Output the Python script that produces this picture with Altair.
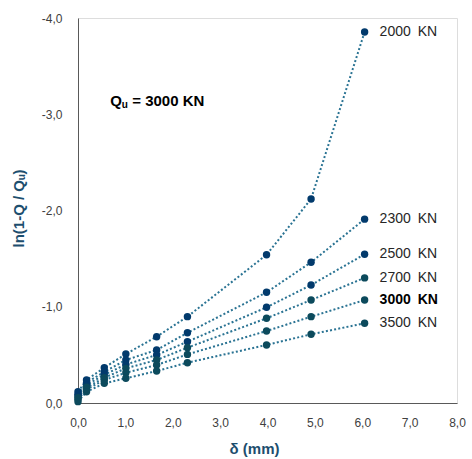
import altair as alt
import pandas as pd

# ---- data ----
deflection = [0.0, 0.18, 0.555, 1.01, 1.66, 2.31, 3.98, 4.92, 6.05]
series = ["2000", "2300", "2500", "2700", "3000", "3500"]
ln_2000 = [0.117, 0.239, 0.367, 0.509, 0.689, 0.897, 1.54, 2.12, 3.855]
ln_2300 = [0.090, 0.211, 0.325, 0.447, 0.551, 0.730, 1.15, 1.462, 1.91]
ln_2500 = [0.073, 0.187, 0.294, 0.400, 0.499, 0.637, 0.994, 1.226, 1.545]
ln_2700 = [0.055, 0.163, 0.263, 0.360, 0.447, 0.575, 0.880, 1.070, 1.300]
ln_3000 = [0.038, 0.142, 0.239, 0.315, 0.395, 0.505, 0.748, 0.897, 1.070]
ln_3500 = [0.014, 0.117, 0.204, 0.257, 0.332, 0.419, 0.603, 0.714, 0.828]
labels = ["2000\u2002KN", "2300\u2002KN", "2500\u2002KN", "2700\u2002KN", "3000\u2002KN", "3500\u2002KN"]
point_colors = ["#023a6c", "#023a6c", "#023a6c", "#0c4a5c", "#0c4a5c", "#0c4a5c"]
x_ticks = [0, 1, 2, 3, 4, 5, 6, 7, 8]
y_ticks = [0, -1, -2, -3, -4]
note_parts = ["Q", "u", "= 3000 KN"]

all_vals = [ln_2000, ln_2300, ln_2500, ln_2700, ln_3000, ln_3500]
rows = []
for s, lab, vals in zip(series, labels, all_vals):
    for i, (x, v) in enumerate(zip(deflection, vals)):
        rows.append({"series": s, "label": lab, "x": x, "y": -v,
                     "last": i == len(deflection) - 1})
df = pd.DataFrame(rows)

xs = alt.Scale(domain=[0, 8], nice=False, zero=False)
ys = alt.Scale(domain=[0, -4], nice=False, zero=False)
color = alt.Color("series:N", scale=alt.Scale(domain=series, range=point_colors), legend=None)

lab_font = "Liberation Sans"
axis_col = "#595959"

x_axis = alt.Axis(
    values=x_ticks, labelExpr="replace(format(datum.value, '.1f'), '.', ',')",
    grid=False, ticks=False, domainColor=axis_col, labelColor="#404040",
    labelFontSize=12, labelFont=lab_font, labelPadding=14, labelFlush=False,
    title="δ (mm)", titleFont=lab_font, titleFontSize=15, titleFontWeight="bold",
    titleColor="#1d4e6e", titleX=176, titleY=45, titleBaseline="middle",
)
y_axis = alt.Axis(
    values=y_ticks,
    labelExpr="(datum.value < 0 ? '-' : '') + replace(format(abs(datum.value), '.1f'), '.', ',')",
    grid=False, ticks=False, domainColor=axis_col, labelColor="#404040",
    labelFontSize=12, labelFont=lab_font, labelPadding=16, labelFlush=False,
    title="ln(1-Q / Qᵤ)", titleFont=lab_font, titleFontSize=15, titleFontWeight="bold",
    titleColor="#1d4e6e", titleAngle=270, titleX=-60, titleY=190, titleBaseline="middle",
    titleAlign="center",
)

base = alt.Chart(df)

lines = base.mark_line(
    strokeDash=[2, 2.2], strokeWidth=2, strokeCap="butt", color="#2a7393"
).encode(
    x=alt.X("x:Q", scale=xs, axis=x_axis),
    y=alt.Y("y:Q", scale=ys, axis=y_axis),
    detail="series:N",
)

points = base.mark_circle(size=55, opacity=1).encode(
    x=alt.X("x:Q", scale=xs),
    y=alt.Y("y:Q", scale=ys),
    color=color,
)

end_normal = base.transform_filter("datum.last && datum.series != '3000'").mark_text(
    align="left", baseline="middle", dx=15, fontSize=14, font=lab_font, color="#262626"
).encode(x=alt.X("x:Q", scale=xs), y=alt.Y("y:Q", scale=ys), text="label:N")

end_bold = base.transform_filter("datum.last && datum.series == '3000'").mark_text(
    align="left", baseline="middle", dx=15, fontSize=14, font=lab_font, color="#000000",
    fontWeight="bold"
).encode(x=alt.X("x:Q", scale=xs), y=alt.Y("y:Q", scale=ys), text="label:N")

note_df = pd.DataFrame({"x": [0.68], "y": [-3.14]})
note_q = alt.Chart(note_df).mark_text(
    align="left", baseline="middle", fontSize=15, fontWeight="bold", font=lab_font,
    color="#000000", text=note_parts[0]
).encode(x=alt.X("x:Q", scale=xs), y=alt.Y("y:Q", scale=ys))
note_u = alt.Chart(note_df).mark_text(
    align="left", baseline="middle", fontSize=10, fontWeight="bold", font=lab_font,
    color="#000000", text=note_parts[1], dx=11.5, dy=4
).encode(x=alt.X("x:Q", scale=xs), y=alt.Y("y:Q", scale=ys))
note_rest = alt.Chart(note_df).mark_text(
    align="left", baseline="middle", fontSize=15, fontWeight="bold", font=lab_font,
    color="#000000", text=note_parts[2], dx=22
).encode(x=alt.X("x:Q", scale=xs), y=alt.Y("y:Q", scale=ys))

chart = alt.layer(lines, points, end_normal, end_bold, note_q, note_u, note_rest).properties(
    width=379, height=385,
    autosize=alt.AutoSizeParams(type="none"),
    padding={"left": 78, "top": 18, "right": 15, "bottom": 56},
).configure_view(stroke="#8c8c8c", strokeWidth=1).configure(background="white")

chart.save("out.html", embed_options={"renderer": "svg", "actions": False})
